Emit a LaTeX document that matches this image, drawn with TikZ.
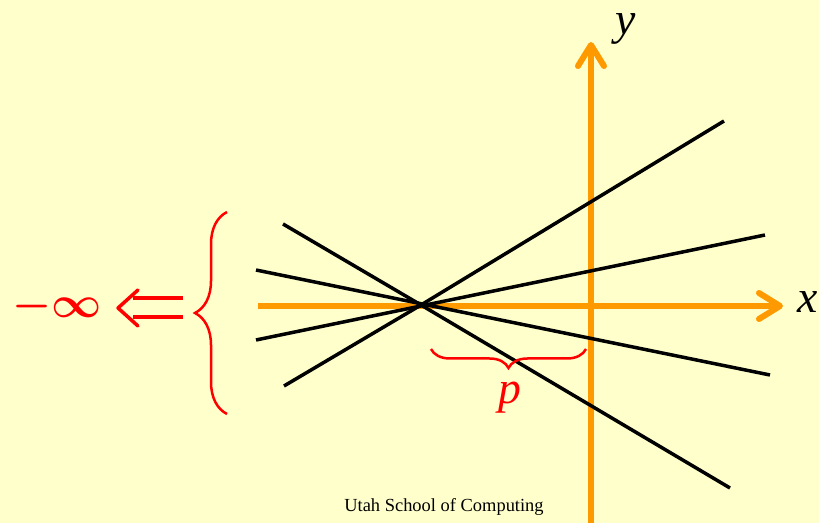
\documentclass[tikz,border=0pt]{standalone}
\usepackage{fontspec}
\setmainfont{Liberation Serif}
\usepackage{tikz}
\usetikzlibrary{arrows.meta,decorations.pathreplacing}
\definecolor{slideYellow}{RGB}{255,255,204}
\definecolor{axisOrange}{RGB}{255,153,0}
\definecolor{limitRed}{RGB}{255,0,0}

\begin{document}
\begin{tikzpicture}[x=0.02cm,y=-0.02cm,
  axis/.style={axisOrange, line width=0.12cm, -{Straight Barb[length=0.42cm,width=0.52cm,round]}},
  ray/.style={black, line width=0.07cm},
  curly/.style={limitRed, line width=0.05cm, decorate, decoration={brace,amplitude=#1}},
  lbl/.style={font=\fontsize{26}{30}\selectfont\itshape}]
\fill[slideYellow] (0,0) rectangle (819,523);
\useasboundingbox (0,0) rectangle (819,523);

% axes
\draw[axis] (258,306) -- (783,306);
\draw[axis] (591,523) -- (591,42);
\node[lbl] (xlbl) at (808,302) {x};
\node[lbl] (ylbl) at (626,29) {y};

% pencil of lines through one point
\coordinate (c) at (421,305);
\draw[ray] (283,224) -- (c) -- (730,488);
\draw[ray] (284,386) -- (c) -- (724,121);
\draw[ray] (256,270) -- (770,375);
\draw[ray] (256,340) -- (765,235);

% distance p
\draw[curly=0.38cm] (586,349) -- (431,349);
\node[lbl, text=limitRed] (plbl) at (510,398) {p};

% limit on the left
\draw[curly=0.64cm] (227,414) -- (227,212);
\node[text=limitRed, font=\fontsize{31}{36}\selectfont\boldmath] (minf) at (57,307) {$-\infty$};
\draw[limitRed, line width=0.07cm] (183,298) -- (133,298) (183,317) -- (133,317);
\draw[limitRed, line width=0.07cm, line cap=round, line join=round] (138,290) -- (118,308) -- (138,326);

\node[font=\fontsize{10.5}{12}\selectfont] (footer) at (444,507) {Utah School of Computing};
\end{tikzpicture}
\end{document}
